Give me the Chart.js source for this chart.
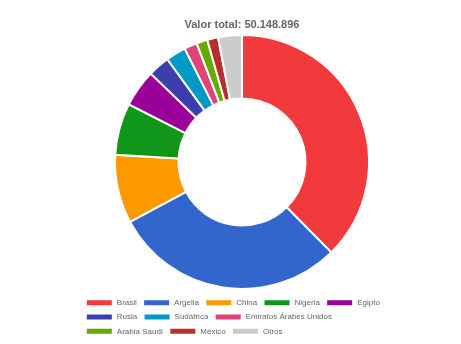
<!DOCTYPE html>
<html lang="es">
<head>
<meta charset="utf-8">
<title>Valor total por país</title>
<script src="https://cdn.jsdelivr.net/npm/chart.js@4.4.1/dist/chart.umd.min.js"></script>
<style>
  html, body { margin: 0; padding: 0; background: #fff; }
  #wrap { position: relative; width: 461px; height: 344px; }
</style>
</head>
<body>
<div id="wrap"><canvas id="grafico"></canvas></div>
<script>
// Países y valores del gráfico de anillo
const paises = ['Brasil', 'Argelia', 'China', 'Nigeria', 'Egipto', 'Rusia', 'Sudáfrica',
  'Emiratos Árabes Unidos', 'Arabia Saudí', 'México', 'Otros'];
const valores = [18856000, 14844000, 4363000, 3310000, 2382000, 1379000, 1279000,
  822000, 702000, 697000, 1514896];
const colores = ['#f23a3c', '#3366cc', '#ff9900', '#109618', '#990099', '#3b3eac', '#0099c6',
  '#dd4477', '#66aa00', '#b82e2e', '#cccccc'];

// Separador de miles con punto
function formatoMiles(n) {
  return String(Math.round(n)).replace(/\B(?=(\d{3})+(?!\d))/g, '.');
}
const total = valores.reduce((a, b) => a + b, 0);

const fuente = '"Liberation Sans", Arial, Helvetica, sans-serif';

new Chart(document.getElementById('grafico'), {
  type: 'doughnut',
  data: {
    labels: paises,
    datasets: [{
      data: valores,
      backgroundColor: colores,
      borderColor: '#ffffff',
      borderWidth: 2
    }]
  },
  options: {
    responsive: true,
    maintainAspectRatio: false,
    animation: false,
    cutout: '50%',
    radius: 127,
    layout: { padding: { top: 0, bottom: -1.3, left: 79.5, right: 56.5 } },
    plugins: {
      title: {
        display: true,
        text: 'Valor total: ' + formatoMiles(total),
        color: '#666666',
        font: { family: fuente, size: 11, weight: 'bold', lineHeight: 1.2 },
        padding: { top: 18.4, bottom: 0 }
      },
      legend: {
        position: 'bottom',
        align: 'start',
        labels: {
          color: '#666666',
          font: { family: fuente, size: 8 },
          boxWidth: 27,
          boxHeight: 7,
          padding: 6.3
        }
      },
      tooltip: { enabled: false }
    }
  }
});
</script>
</body>
</html>
